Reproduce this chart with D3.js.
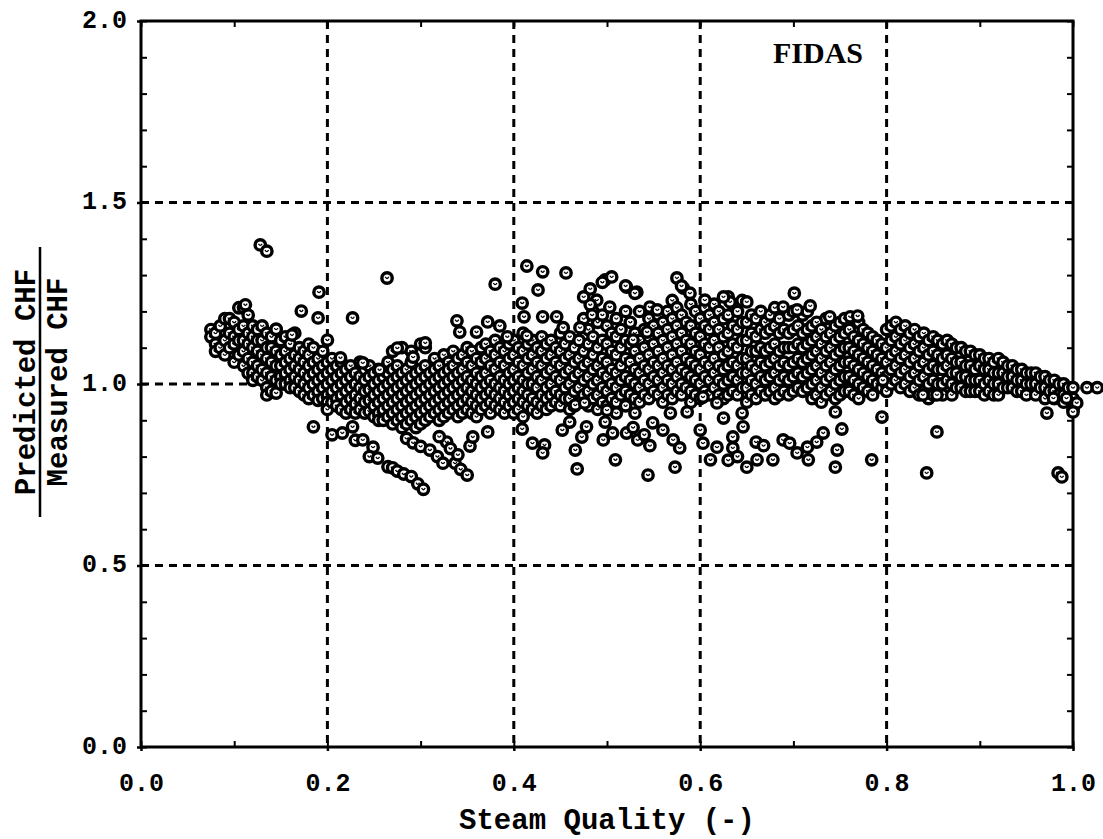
<!DOCTYPE html>
<html>
<head>
<meta charset="utf-8">
<script src="https://cdn.jsdelivr.net/npm/d3@7"></script>
<style>
  html, body { margin: 0; padding: 0; background: #fff; }
  svg { display: block; }
</style>
</head>
<body>
<svg id="chart" width="1103" height="839"></svg>
<script>
// ---------- DATA ----------
const xTicks = [0.0, 0.2, 0.4, 0.6, 0.8, 1.0];
const yTicks = [0.0, 0.5, 1.0, 1.5, 2.0];
const xGrid = [0.2, 0.4, 0.6, 0.8];
const yGrid = [0.5, 1.0, 1.5];
const xTitle = "Steam Quality (-)";
const yTitleTop = "Predicted CHF";
const yTitleBottom = "Measured CHF";
const tag = "FIDAS";

// main band: each row = [steam quality, ratio, ratio, ...]
const mainBand = [
  [0.075, 1.15, 1.13],
  [0.08, 1.14, 1.11, 1.09],
  [0.085, 1.16, 1.10],
  [0.09, 1.18, 1.12, 1.08],
  [0.095, 1.18, 1.14, 1.10],
  [0.10, 1.17, 1.13, 1.11, 1.06],
  [0.105, 1.21, 1.15, 1.12, 1.08],
  [0.11, 1.21, 1.16, 1.12, 1.09, 1.05],
  [0.115, 1.19, 1.14, 1.11, 1.07, 1.03],
  [0.12, 1.16, 1.13, 1.10, 1.06, 1.03, 1.01],
  [0.125, 1.15, 1.12, 1.09, 1.05, 1.02],
  [0.13, 1.16, 1.12, 1.08, 1.04, 1.01],
  [0.135, 1.14, 1.10, 1.07, 1.03, 0.99, 0.97],
  [0.14, 1.13, 1.10, 1.06, 1.02, 0.98],
  [0.145, 1.15, 1.09, 1.05, 1.01, 0.975],
  [0.15, 1.12, 1.08, 1.05, 1.02, 1.00],
  [0.155, 1.13, 1.09, 1.06, 1.03, 1.00],
  [0.16, 1.11, 1.07, 1.04, 1.01, 0.99],
  [0.165, 1.14, 1.08, 1.05, 1.02, 0.99],
  [0.17, 1.10, 1.07, 1.04, 1.01, 0.98],
  [0.175, 1.09, 1.06, 1.03, 1.00, 0.97],
  [0.18, 1.11, 1.08, 1.05, 1.02, 0.99, 0.96],
  [0.185, 1.10, 1.06, 1.03, 1.00, 0.97],
  [0.19, 1.07, 1.04, 1.01, 0.98, 0.955],
  [0.195, 1.09, 1.05, 1.02, 0.99, 0.96],
  [0.20, 1.06, 1.03, 1.00, 0.97, 0.95, 0.93],
  [0.205, 1.07, 1.04, 1.01, 0.98, 0.95],
  [0.21, 1.05, 1.02, 0.99, 0.96, 0.94],
  [0.215, 1.06, 1.03, 1.00, 0.97, 0.93],
  [0.22, 1.04, 1.01, 0.98, 0.95, 0.92],
  [0.225, 1.05, 1.02, 0.99, 0.96, 0.93],
  [0.23, 1.03, 1.00, 0.97, 0.945, 0.92],
  [0.235, 1.06, 1.02, 0.99, 0.96, 0.93],
  [0.24, 1.04, 1.01, 0.98, 0.95, 0.92],
  [0.245, 1.05, 1.02, 0.985, 0.955, 0.925],
  [0.25, 1.03, 1.00, 0.97, 0.94, 0.91],
  [0.255, 1.04, 1.01, 0.98, 0.95, 0.92, 0.90],
  [0.26, 1.02, 0.99, 0.96, 0.93, 0.90],
  [0.265, 1.06, 1.03, 1.00, 0.97, 0.94, 0.91],
  [0.27, 1.09, 1.04, 1.01, 0.98, 0.95, 0.92, 0.89],
  [0.275, 1.05, 1.02, 0.99, 0.96, 0.93, 0.90],
  [0.28, 1.10, 1.03, 1.00, 0.97, 0.94, 0.91, 0.88],
  [0.285, 1.04, 1.01, 0.98, 0.95, 0.92, 0.89],
  [0.29, 1.09, 1.06, 1.02, 0.99, 0.96, 0.93, 0.90],
  [0.295, 1.03, 1.00, 0.97, 0.94, 0.91, 0.88],
  [0.30, 1.11, 1.04, 1.01, 0.98, 0.95, 0.92, 0.89],
  [0.305, 1.10, 1.05, 1.02, 0.99, 0.96, 0.93, 0.90],
  [0.31, 1.03, 1.00, 0.97, 0.94, 0.91],
  [0.315, 1.07, 1.04, 1.01, 0.98, 0.95, 0.92],
  [0.32, 1.05, 1.02, 0.99, 0.96, 0.93, 0.90],
  [0.325, 1.08, 1.03, 1.00, 0.97, 0.94, 0.91],
  [0.33, 1.06, 1.04, 1.01, 0.98, 0.95, 0.92],
  [0.335, 1.09, 1.05, 1.02, 0.99, 0.96, 0.93],
  [0.34, 1.07, 1.03, 1.00, 0.97, 0.94, 0.91],
  [0.345, 1.08, 1.04, 1.01, 0.98, 0.95, 0.92],
  [0.35, 1.10, 1.06, 1.02, 0.99, 0.96, 0.93],
  [0.355, 1.09, 1.05, 1.01, 0.98, 0.95, 0.92],
  [0.36, 1.07, 1.03, 1.00, 0.97, 0.94, 0.91],
  [0.365, 1.10, 1.06, 1.02, 0.99, 0.96, 0.93],
  [0.37, 1.11, 1.07, 1.03, 1.00, 0.97, 0.94],
  [0.375, 1.09, 1.05, 1.01, 0.98, 0.95, 0.92],
  [0.38, 1.12, 1.08, 1.04, 1.00, 0.97, 0.94],
  [0.385, 1.10, 1.06, 1.02, 0.99, 0.96, 0.93],
  [0.39, 1.09, 1.05, 1.01, 0.98, 0.95, 0.92],
  [0.395, 1.11, 1.07, 1.03, 1.00, 0.97, 0.94],
  [0.40, 1.12, 1.08, 1.04, 1.01, 0.98, 0.95, 0.92],
  [0.405, 1.10, 1.06, 1.02, 0.99, 0.96, 0.93],
  [0.41, 1.14, 1.09, 1.05, 1.01, 0.98, 0.95, 0.91],
  [0.415, 1.11, 1.07, 1.03, 1.00, 0.97, 0.94],
  [0.42, 1.12, 1.08, 1.04, 1.00, 0.96, 0.93],
  [0.425, 1.10, 1.06, 1.02, 0.99, 0.95, 0.92],
  [0.43, 1.13, 1.09, 1.05, 1.01, 0.97, 0.94],
  [0.435, 1.11, 1.07, 1.03, 0.99, 0.96, 0.93],
  [0.44, 1.12, 1.08, 1.04, 1.00, 0.97, 0.94],
  [0.445, 1.10, 1.06, 1.02, 0.98, 0.95],
  [0.45, 1.14, 1.09, 1.05, 1.01, 0.97, 0.94],
  [0.455, 1.11, 1.07, 1.03, 0.99, 0.96],
  [0.46, 1.13, 1.08, 1.04, 1.00, 0.96, 0.93],
  [0.465, 1.10, 1.06, 1.02, 0.98, 0.94],
  [0.47, 1.12, 1.07, 1.03, 0.99, 0.95],
  [0.475, 1.18, 1.09, 1.05, 1.01, 0.97],
  [0.48, 1.15, 1.11, 1.06, 1.02, 0.98, 0.94],
  [0.485, 1.20, 1.13, 1.08, 1.04, 1.00, 0.96],
  [0.49, 1.17, 1.10, 1.05, 1.01, 0.97, 0.93],
  [0.495, 1.19, 1.12, 1.07, 1.03, 0.99, 0.95],
  [0.50, 1.16, 1.11, 1.06, 1.02, 0.98, 0.94],
  [0.505, 1.14, 1.09, 1.04, 1.00, 0.96],
  [0.51, 1.18, 1.13, 1.08, 1.03, 0.99, 0.95, 0.92],
  [0.515, 1.15, 1.10, 1.05, 1.01, 0.97],
  [0.52, 1.20, 1.12, 1.07, 1.02, 0.98, 0.94],
  [0.525, 1.17, 1.11, 1.06, 1.01, 0.97],
  [0.53, 1.14, 1.09, 1.04, 1.00, 0.96, 0.92],
  [0.535, 1.20, 1.12, 1.07, 1.03, 0.99, 0.95],
  [0.54, 1.15, 1.10, 1.05, 1.01, 0.97],
  [0.545, 1.18, 1.13, 1.08, 1.04, 1.00, 0.96],
  [0.55, 1.16, 1.11, 1.06, 1.02, 0.98],
  [0.555, 1.19, 1.14, 1.09, 1.05, 1.01, 0.97],
  [0.56, 1.17, 1.12, 1.07, 1.03, 0.99, 0.95],
  [0.565, 1.20, 1.15, 1.10, 1.05, 1.01, 0.97],
  [0.57, 1.23, 1.18, 1.13, 1.08, 1.04, 1.00, 0.96],
  [0.575, 1.21, 1.16, 1.11, 1.06, 1.02, 0.98],
  [0.58, 1.19, 1.14, 1.09, 1.04, 1.00, 0.97],
  [0.585, 1.17, 1.12, 1.07, 1.03, 0.99],
  [0.59, 1.22, 1.16, 1.11, 1.06, 1.02, 0.98, 0.95],
  [0.595, 1.20, 1.14, 1.09, 1.05, 1.01, 0.97],
  [0.60, 1.18, 1.13, 1.08, 1.04, 1.00, 0.96],
  [0.605, 1.21, 1.16, 1.11, 1.06, 1.02, 0.98],
  [0.61, 1.19, 1.15, 1.10, 1.05, 1.01, 0.97],
  [0.615, 1.22, 1.17, 1.12, 1.07, 1.03, 0.99],
  [0.62, 1.20, 1.15, 1.10, 1.05, 1.01, 0.97],
  [0.625, 1.18, 1.13, 1.08, 1.04, 1.00, 0.96],
  [0.63, 1.19, 1.14, 1.09, 1.05, 1.01, 0.97],
  [0.635, 1.22, 1.16, 1.11, 1.06, 1.02, 0.98],
  [0.64, 1.20, 1.15, 1.10, 1.05, 1.01, 0.97],
  [0.645, 1.23, 1.17, 1.12, 1.07, 1.03, 0.99],
  [0.65, 1.17, 1.12, 1.07, 1.03, 0.99, 0.95],
  [0.655, 1.19, 1.14, 1.09, 1.05, 1.01, 0.97],
  [0.66, 1.18, 1.13, 1.09, 1.04, 1.00, 0.96],
  [0.665, 1.20, 1.15, 1.10, 1.06, 1.02, 0.98],
  [0.67, 1.17, 1.14, 1.09, 1.05, 1.01, 0.97],
  [0.675, 1.19, 1.15, 1.10, 1.06, 1.02, 0.98],
  [0.68, 1.21, 1.16, 1.11, 1.07, 1.03, 0.99, 0.96],
  [0.685, 1.18, 1.14, 1.09, 1.05, 1.01, 0.97],
  [0.69, 1.15, 1.10, 1.06, 1.02, 0.98],
  [0.695, 1.19, 1.14, 1.10, 1.05, 1.01, 0.97],
  [0.70, 1.20, 1.15, 1.10, 1.06, 1.02, 0.98],
  [0.705, 1.16, 1.11, 1.07, 1.03, 0.99],
  [0.71, 1.19, 1.14, 1.10, 1.06, 1.02, 0.98],
  [0.715, 1.20, 1.15, 1.11, 1.07, 1.03, 0.99],
  [0.72, 1.16, 1.12, 1.08, 1.04, 1.00, 0.96],
  [0.725, 1.17, 1.13, 1.09, 1.05, 1.01, 0.97],
  [0.73, 1.15, 1.11, 1.07, 1.03, 0.99, 0.95],
  [0.735, 1.18, 1.13, 1.09, 1.05, 1.01, 0.97],
  [0.74, 1.14, 1.10, 1.06, 1.02, 0.98],
  [0.745, 1.16, 1.12, 1.08, 1.04, 1.00, 0.96],
  [0.75, 1.17, 1.13, 1.09, 1.05, 1.01, 0.97],
  [0.755, 1.18, 1.14, 1.10, 1.06, 1.02, 0.98],
  [0.76, 1.15, 1.10, 1.06, 1.02, 0.98],
  [0.765, 1.18, 1.13, 1.09, 1.05, 1.01, 0.97],
  [0.77, 1.17, 1.12, 1.08, 1.04, 1.00, 0.96],
  [0.775, 1.15, 1.11, 1.07, 1.03, 0.99],
  [0.78, 1.14, 1.10, 1.06, 1.02, 0.98],
  [0.785, 1.13, 1.09, 1.05, 1.01, 0.97],
  [0.79, 1.12, 1.08, 1.04, 1.00],
  [0.795, 1.11, 1.07, 1.03, 0.99],
  [0.80, 1.15, 1.10, 1.06, 1.02, 0.98],
  [0.805, 1.16, 1.12, 1.08, 1.04, 1.00],
  [0.81, 1.17, 1.13, 1.09, 1.05, 1.01],
  [0.815, 1.15, 1.11, 1.07, 1.03, 0.99],
  [0.82, 1.16, 1.12, 1.08, 1.04, 1.00],
  [0.825, 1.14, 1.10, 1.06, 1.02, 0.98],
  [0.83, 1.15, 1.11, 1.07, 1.03, 0.99],
  [0.835, 1.13, 1.09, 1.05, 1.01, 0.97],
  [0.84, 1.14, 1.10, 1.06, 1.02, 0.98],
  [0.845, 1.12, 1.08, 1.04, 1.00, 0.96],
  [0.85, 1.13, 1.09, 1.05, 1.01, 0.97],
  [0.855, 1.12, 1.08, 1.04, 1.00],
  [0.86, 1.11, 1.07, 1.04, 1.00, 0.97],
  [0.865, 1.12, 1.08, 1.05, 1.01],
  [0.87, 1.11, 1.07, 1.03, 1.00, 0.97],
  [0.875, 1.10, 1.06, 1.03, 0.99],
  [0.88, 1.10, 1.06, 1.02, 0.99],
  [0.885, 1.09, 1.05, 1.02, 0.98],
  [0.89, 1.09, 1.05, 1.01, 0.98],
  [0.895, 1.08, 1.04, 1.01, 0.98],
  [0.90, 1.08, 1.05, 1.01, 0.98],
  [0.905, 1.07, 1.04, 1.00, 0.97],
  [0.91, 1.07, 1.04, 1.01, 0.98],
  [0.915, 1.06, 1.03, 1.00, 0.97],
  [0.92, 1.07, 1.03, 1.00, 0.97],
  [0.925, 1.06, 1.03, 0.99],
  [0.93, 1.05, 1.02, 0.99],
  [0.935, 1.05, 1.02, 0.99],
  [0.94, 1.04, 1.01, 0.98],
  [0.945, 1.04, 1.01, 0.98],
  [0.95, 1.03, 1.00, 0.97],
  [0.955, 1.03, 1.00],
  [0.96, 1.03, 1.00, 0.97],
  [0.965, 1.02, 0.99],
  [0.97, 1.02, 0.99, 0.96],
  [0.975, 1.01, 0.98],
  [0.98, 1.01, 0.98, 0.96],
  [0.985, 1.00, 0.97],
  [0.99, 1.00, 0.97, 0.95],
  [0.995, 0.99],
  [1.00, 0.99, 0.96, 0.93],
  [1.015, 0.99],
  [1.026, 0.99]
];

// scattered points above the band: [quality, ratio]
const upperScatter = [
  [0.128, 1.383], [0.135, 1.366], [0.264, 1.292], [0.191, 1.253], [0.172, 1.201],
  [0.227, 1.182], [0.190, 1.182], [0.200, 1.121], [0.112, 1.218], [0.162, 1.135],
  [0.145, 1.151], [0.238, 1.058], [0.214, 1.072], [0.256, 1.039], [0.275, 1.099],
  [0.339, 1.174], [0.342, 1.143], [0.360, 1.143], [0.372, 1.171], [0.380, 1.275],
  [0.385, 1.160], [0.393, 1.130], [0.409, 1.223], [0.411, 1.185], [0.414, 1.325],
  [0.426, 1.259], [0.431, 1.309], [0.431, 1.185], [0.446, 1.185], [0.456, 1.306],
  [0.453, 1.155], [0.471, 1.155], [0.414, 1.132], [0.305, 1.113], [0.292, 1.074],
  [0.482, 1.262], [0.489, 1.231], [0.498, 1.287], [0.505, 1.295], [0.521, 1.267],
  [0.532, 1.253], [0.503, 1.212], [0.482, 1.218], [0.484, 1.190], [0.543, 1.143],
  [0.528, 1.121], [0.546, 1.212], [0.554, 1.204], [0.475, 1.240], [0.495, 1.280],
  [0.575, 1.292], [0.582, 1.264], [0.589, 1.250], [0.605, 1.231], [0.630, 1.240],
  [0.632, 1.226], [0.650, 1.226], [0.701, 1.250], [0.718, 1.215], [0.689, 1.212],
  [0.704, 1.204], [0.739, 1.185], [0.761, 1.185], [0.769, 1.187], [0.625, 1.240],
  [0.580, 1.270], [0.520, 1.270], [0.530, 1.250]
];

// scattered points below the band: [quality, ratio]
const lowerScatter = [
  [0.185, 0.882], [0.205, 0.860], [0.216, 0.865], [0.227, 0.882], [0.230, 0.845],
  [0.238, 0.846], [0.249, 0.826], [0.245, 0.800], [0.254, 0.796], [0.265, 0.772],
  [0.270, 0.769], [0.275, 0.760], [0.282, 0.752], [0.290, 0.745], [0.297, 0.725],
  [0.303, 0.710], [0.285, 0.850], [0.292, 0.838], [0.300, 0.828], [0.310, 0.818],
  [0.318, 0.800], [0.324, 0.782], [0.328, 0.840], [0.332, 0.822], [0.337, 0.782],
  [0.343, 0.765], [0.350, 0.749], [0.340, 0.805], [0.320, 0.855],
  [0.353, 0.829], [0.356, 0.854], [0.372, 0.868], [0.409, 0.876], [0.420, 0.837],
  [0.433, 0.832], [0.431, 0.810], [0.452, 0.873], [0.460, 0.895], [0.478, 0.882],
  [0.473, 0.854], [0.466, 0.818], [0.468, 0.766], [0.498, 0.895], [0.506, 0.865],
  [0.496, 0.846], [0.521, 0.865], [0.533, 0.846], [0.509, 0.791], [0.544, 0.749],
  [0.528, 0.880], [0.540, 0.860], [0.466, 0.942], [0.476, 0.948], [0.500, 0.928],
  [0.549, 0.893], [0.560, 0.873], [0.546, 0.830], [0.571, 0.846], [0.578, 0.824],
  [0.573, 0.771], [0.568, 0.920], [0.586, 0.923], [0.600, 0.873], [0.603, 0.837],
  [0.611, 0.791], [0.618, 0.826], [0.625, 0.906], [0.635, 0.854], [0.635, 0.824],
  [0.646, 0.882], [0.645, 0.920], [0.650, 0.771], [0.661, 0.791], [0.660, 0.840],
  [0.668, 0.830], [0.678, 0.791], [0.689, 0.846], [0.696, 0.837], [0.704, 0.810],
  [0.716, 0.791], [0.715, 0.826], [0.725, 0.840], [0.732, 0.865], [0.745, 0.923],
  [0.752, 0.876], [0.747, 0.818], [0.745, 0.771], [0.784, 0.791], [0.795, 0.909],
  [0.603, 0.964], [0.618, 0.948], [0.630, 0.790], [0.640, 0.800]
];

// points at the high-quality end: [quality, ratio]
const rightScatter = [
  [0.796, 1.010], [0.839, 0.970], [0.854, 0.970], [0.972, 0.920], [0.854, 0.868],
  [0.843, 0.755], [0.984, 0.755], [0.988, 0.744], [0.979, 0.961], [0.993, 0.961],
  [1.004, 0.948], [1.000, 0.923]
];

// ---------- CHART ----------
const svg = d3.select("#chart");
const x = d3.scaleLinear().domain([0, 1]).range([141, 1073]);
const y = d3.scaleLinear().domain([0, 2]).range([747, 21]);
const FONT = "'Liberation Mono', 'DejaVu Sans Mono', monospace";

const minorX = d3.range(0, 11).map(i => i / 10);
const minorY = d3.range(0, 21).map(i => i / 10);
const fmt = d3.format(".1f");

// grid
svg.append("g").selectAll("line").data(xGrid).join("line")
  .attr("x1", d => x(d)).attr("x2", d => x(d))
  .attr("y1", y(2)).attr("y2", y(0))
  .attr("stroke", "#000").attr("stroke-width", 3).attr("stroke-dasharray", "8,6");
svg.append("g").selectAll("line").data(yGrid).join("line")
  .attr("y1", d => y(d)).attr("y2", d => y(d))
  .attr("x1", x(0)).attr("x2", x(1))
  .attr("stroke", "#000").attr("stroke-width", 3).attr("stroke-dasharray", "8,6");

// axes with minor inward ticks
function styleAxis(g) {
  g.select(".domain").remove();
  g.selectAll(".tick line").attr("stroke", "#000").attr("stroke-width", 2);
}
svg.append("g").attr("transform", `translate(0,${y(0)})`)
  .call(d3.axisBottom(x).tickValues(minorX).tickSize(-6).tickFormat(""))
  .call(styleAxis);
svg.append("g").attr("transform", `translate(0,${y(2)})`)
  .call(d3.axisTop(x).tickValues(minorX).tickSize(-6).tickFormat(""))
  .call(styleAxis);
svg.append("g").attr("transform", `translate(${x(0)},0)`)
  .call(d3.axisLeft(y).tickValues(minorY).tickSize(-6).tickFormat(""))
  .call(styleAxis);
svg.append("g").attr("transform", `translate(${x(1)},0)`)
  .call(d3.axisRight(y).tickValues(minorY).tickSize(-6).tickFormat(""))
  .call(styleAxis);

// major ticks with labels (small outward marks)
const bottomAxis = svg.append("g").attr("transform", `translate(0,${y(0)})`)
  .call(d3.axisBottom(x).tickValues(xTicks).tickSize(4).tickPadding(22).tickFormat(fmt));
bottomAxis.select(".domain").remove();
bottomAxis.selectAll(".tick line").attr("stroke", "#000").attr("stroke-width", 2.5);
bottomAxis.selectAll("text").attr("font-family", FONT).attr("font-weight", "bold")
  .attr("font-size", 25).attr("fill", "#000");

const leftAxis = svg.append("g").attr("transform", `translate(${x(0)},0)`)
  .call(d3.axisLeft(y).tickValues(yTicks).tickSize(4).tickPadding(10).tickFormat(fmt));
leftAxis.select(".domain").remove();
leftAxis.selectAll(".tick line").attr("stroke", "#000").attr("stroke-width", 2.5);
leftAxis.selectAll("text").attr("font-family", FONT).attr("font-weight", "bold")
  .attr("font-size", 25).attr("fill", "#000").attr("dy", "0.25em");

// frame
svg.append("rect")
  .attr("x", x(0)).attr("y", y(2))
  .attr("width", x(1) - x(0)).attr("height", y(0) - y(2))
  .attr("fill", "none").attr("stroke", "#000").attr("stroke-width", 3);

// points
const pts = [];
mainBand.forEach(row => row.slice(1).forEach(v => pts.push([row[0], v])));
upperScatter.forEach(p => pts.push(p));
lowerScatter.forEach(p => pts.push(p));
rightScatter.forEach(p => pts.push(p));

const marks = svg.append("g").selectAll("g").data(pts).join("g")
  .attr("transform", d => `translate(${x(d[0])},${y(d[1])})`);
marks.append("circle").attr("r", 5.2)
  .attr("fill", "#fff").attr("stroke", "#000").attr("stroke-width", 3.4);
marks.append("path").attr("d", "M-1.8,-1.2 Q0,2.2 1.8,-1.2")
  .attr("fill", "none").attr("stroke", "#000").attr("stroke-width", 1.3);

// titles
svg.append("text").attr("x", (x(0) + x(1)) / 2).attr("y", 829)
  .attr("text-anchor", "middle").attr("font-family", FONT).attr("font-weight", "bold")
  .attr("font-size", 29).attr("fill", "#000").text(xTitle);

const yc = y(1) - 2;
svg.append("text").attr("transform", `translate(35,${yc}) rotate(-90)`)
  .attr("text-anchor", "middle").attr("font-family", FONT).attr("font-weight", "bold")
  .attr("font-size", 29).attr("fill", "#000").text(yTitleTop);
svg.append("line").attr("x1", 40).attr("x2", 40).attr("y1", yc - 135).attr("y2", yc + 135)
  .attr("stroke", "#000").attr("stroke-width", 2.5);
svg.append("text").attr("transform", `translate(67,${yc}) rotate(-90)`)
  .attr("text-anchor", "middle").attr("font-family", FONT).attr("font-weight", "bold")
  .attr("font-size", 29).attr("fill", "#000").text(yTitleBottom);

svg.append("text").attr("x", 863).attr("y", 63)
  .attr("text-anchor", "end").attr("font-family", "'Liberation Serif', serif").attr("font-weight", "bold")
  .attr("font-size", 30).attr("fill", "#000").text(tag);
</script>
</body>
</html>
